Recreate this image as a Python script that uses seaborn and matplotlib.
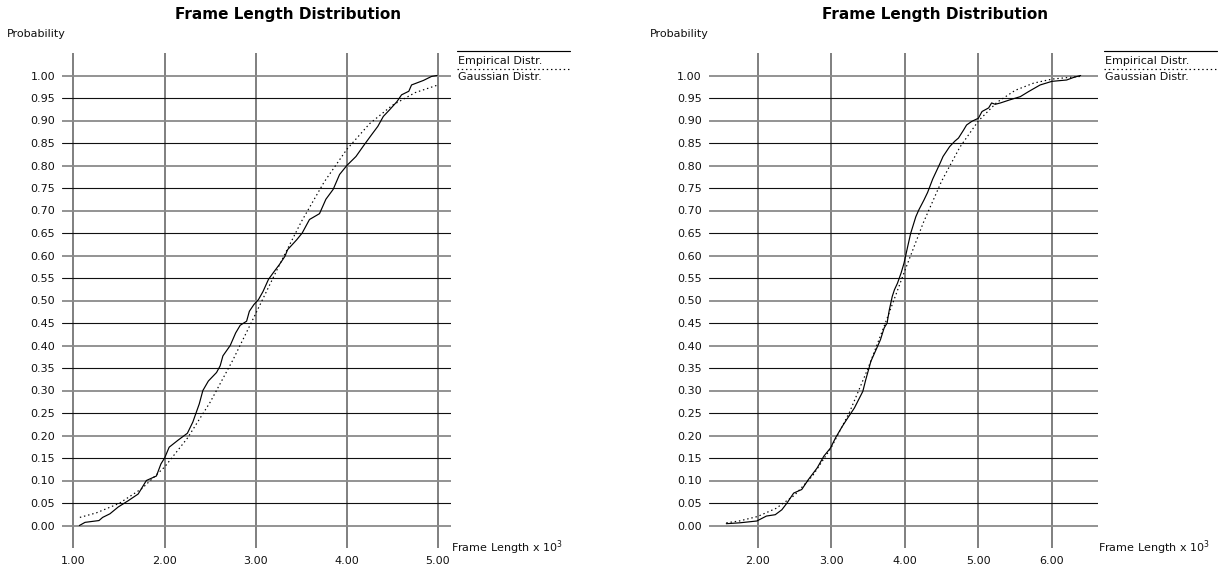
import matplotlib
matplotlib.use("Agg")
import numpy as np
import pandas as pd
import matplotlib.pyplot as plt
from matplotlib.lines import Line2D
import seaborn as sns

# ---- data: first trace (frame lengths in thousands, cumulative probability) ----
left_emp_x = [1.065, 1.127, 1.28, 1.32, 1.40, 1.49, 1.60, 1.71, 1.80, 1.91, 1.96, 2.00,
              2.05, 2.15, 2.25, 2.31, 2.38, 2.42, 2.48, 2.57, 2.61, 2.64, 2.72, 2.75,
              2.78, 2.83, 2.90, 2.93, 2.98, 3.03, 3.08, 3.14, 3.19, 3.26, 3.32, 3.35,
              3.45, 3.51, 3.59, 3.70, 3.77, 3.85, 3.92, 4.00, 4.10, 4.18, 4.27, 4.34,
              4.40, 4.47, 4.55, 4.60, 4.68, 4.71, 4.84, 4.93, 4.99]
left_emp_p = [0.000, 0.007, 0.011, 0.018, 0.026, 0.041, 0.055, 0.070, 0.100, 0.110, 0.137, 0.150,
              0.174, 0.190, 0.205, 0.230, 0.270, 0.300, 0.321, 0.340, 0.355, 0.377, 0.400, 0.414,
              0.428, 0.445, 0.454, 0.476, 0.491, 0.502, 0.520, 0.547, 0.561, 0.580, 0.598, 0.613,
              0.635, 0.650, 0.680, 0.693, 0.725, 0.747, 0.780, 0.800, 0.820, 0.843, 0.868, 0.887,
              0.909, 0.924, 0.942, 0.957, 0.965, 0.979, 0.989, 0.998, 1.000]
left_gauss_x = [1.07, 1.25, 1.50, 1.75, 2.00, 2.25, 2.50, 2.75, 3.00, 3.25, 3.50, 3.75,
                4.00, 4.25, 4.50, 4.75, 5.00]
left_gauss_p = [0.018, 0.028, 0.049, 0.082, 0.130, 0.194, 0.274, 0.368, 0.471, 0.575, 0.675, 0.763,
                0.836, 0.893, 0.934, 0.962, 0.979]

# ---- data: second trace ----
right_emp_x = [1.575, 1.76, 1.99, 2.12, 2.24, 2.33, 2.40, 2.49, 2.60, 2.69, 2.81, 2.90,
               2.99, 3.06, 3.15, 3.225, 3.315, 3.43, 3.47, 3.54, 3.63, 3.67, 3.72, 3.76,
               3.79, 3.83, 3.86, 3.90, 3.95, 3.99, 4.04, 4.08, 4.15, 4.19, 4.26, 4.31,
               4.38, 4.48, 4.52, 4.61, 4.68, 4.73, 4.80, 4.84, 4.91, 5.00, 5.05, 5.14,
               5.18, 5.23, 5.30, 5.43, 5.57, 5.68, 5.84, 6.00, 6.20, 6.30, 6.39]
right_emp_p = [0.004, 0.006, 0.010, 0.021, 0.024, 0.035, 0.050, 0.072, 0.080, 0.102, 0.128, 0.154,
               0.172, 0.195, 0.220, 0.239, 0.261, 0.298, 0.324, 0.365, 0.398, 0.413, 0.439, 0.450,
               0.479, 0.509, 0.524, 0.538, 0.561, 0.583, 0.620, 0.649, 0.686, 0.701, 0.723, 0.740,
               0.770, 0.805, 0.820, 0.842, 0.854, 0.861, 0.879, 0.890, 0.898, 0.905, 0.920, 0.928,
               0.939, 0.936, 0.939, 0.946, 0.953, 0.964, 0.979, 0.987, 0.990, 0.996, 1.000]
right_gauss_x = [1.575, 1.75, 2.00, 2.25, 2.50, 2.75, 3.00, 3.25, 3.50, 3.75, 4.00, 4.25,
                 4.50, 4.75, 5.00, 5.25, 5.50, 5.75, 6.00, 6.25, 6.39]
right_gauss_p = [0.006, 0.010, 0.020, 0.038, 0.067, 0.111, 0.173, 0.252, 0.349, 0.456, 0.566, 0.672,
                 0.765, 0.841, 0.899, 0.940, 0.967, 0.983, 0.992, 0.996, 0.998]

left_xticks = [1, 2, 3, 4, 5]
right_xticks = [2, 3, 4, 5, 6]
prob_ticks = [0.00, 0.05, 0.10, 0.15, 0.20, 0.25, 0.30, 0.35, 0.40, 0.45, 0.50,
              0.55, 0.60, 0.65, 0.70, 0.75, 0.80, 0.85, 0.90, 0.95, 1.00]

title_text = "Frame Length Distribution"
ylabel_text = "Probability"
xlabel_text = "Frame Length x 10$^{3}$"
legend_labels = ["Empirical Distr.", "Gaussian Distr."]

sns.set_theme(style="white")
plt.rcParams["font.family"] = ["DejaVu Sans"]
plt.rcParams["mathtext.fontset"] = "dejavusans"

W, H = 1226, 572
fig = plt.figure(figsize=(W / 100, H / 100), dpi=100)
fig.patch.set_facecolor("white")


def fx(px):
    return px / W


def fy(py):
    return 1 - py / H


DOTTED = (0, (1.2, 2.4))


def panel(x0, x1, xlim, xticks, ex, ep, gx, gp, probability_x):
    ax = fig.add_axes([fx(x0), fy(548), (x1 - x0) / W, 495 / H])
    emp = pd.DataFrame({"length": ex, "prob": ep})
    gau = pd.DataFrame({"length": gx, "prob": gp})
    sns.lineplot(data=emp, x="length", y="prob", ax=ax, color="black", lw=0.85,
                 sort=False, estimator=None)
    sns.lineplot(data=gau, x="length", y="prob", ax=ax, color="black", lw=0.85,
                 linestyle=DOTTED, sort=False, estimator=None)
    ax.set_xlim(*xlim)
    ax.set_ylim(-0.05, 1.05)
    ax.set_xticks(xticks)
    ax.set_xticklabels([f"{t:.2f}" for t in xticks])
    ax.set_yticks(prob_ticks)
    ax.set_yticklabels([f"{t:.2f}" for t in prob_ticks])
    ax.tick_params(axis="both", length=0, labelsize=8, colors="#111111")
    ax.tick_params(axis="y", pad=5)
    ax.tick_params(axis="x", pad=6)
    ax.set_xlabel("")
    ax.set_ylabel("")
    for s in ax.spines.values():
        s.set_visible(False)
    ax.set_facecolor("white")
    ax.set_axisbelow(True)
    ax.grid(True)
    for i, gl in enumerate(ax.get_ygridlines()):
        if i % 2 == 0:
            gl.set_color("#8a8a8a"); gl.set_linewidth(1.3)
        else:
            gl.set_color("#111111"); gl.set_linewidth(0.8)
    for gl in ax.get_xgridlines():
        gl.set_color("#6a6a6a"); gl.set_linewidth(1.2)

    # headings and axis captions
    fig.text(fx((x0 + x1) / 2 + 32), fy(14), title_text, ha="center", va="center",
             fontsize=11, fontweight="bold", color="black")
    fig.text(fx(probability_x), fy(34), ylabel_text, ha="left", va="center",
             fontsize=8, color="#111111")
    fig.text(fx(x1), fy(552), xlabel_text, ha="left", va="baseline",
             fontsize=8, color="#111111")

    # key placed beside the plotting area
    lx0, lx1 = x1 + 6, x1 + 119
    fig.add_artist(Line2D([fx(lx0), fx(lx1)], [fy(51), fy(51)], transform=fig.transFigure,
                          color="black", lw=0.85))
    fig.text(fx(lx0 + 1), fy(61.5), legend_labels[0], ha="left", va="center",
             fontsize=8, color="#111111")
    fig.add_artist(Line2D([fx(lx0), fx(lx1)], [fy(69), fy(69)], transform=fig.transFigure,
                          color="black", lw=0.85, linestyle=DOTTED))
    fig.text(fx(lx0 + 1), fy(77.5), legend_labels[1], ha="left", va="center",
             fontsize=8, color="#111111")
    return ax


panel(62, 451, (0.874, 5.143), left_xticks, left_emp_x, left_emp_p,
      left_gauss_x, left_gauss_p, 7)
panel(708.5, 1098, (1.333, 6.626), right_xticks, right_emp_x, right_emp_p,
      right_gauss_x, right_gauss_p, 650)

fig.savefig("out.png", dpi=100, facecolor="white")
